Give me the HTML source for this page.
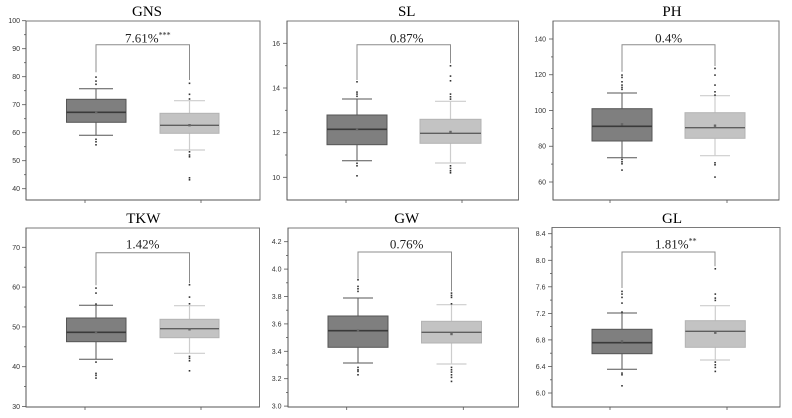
<!DOCTYPE html>
<html><head><meta charset="utf-8"><style>
html,body{margin:0;padding:0;background:#fff;}
svg{display:block;}
.t{font-family:"Liberation Serif",serif;font-size:15px;fill:#000;text-anchor:middle;}
.l{font-family:"Liberation Serif",serif;font-size:13px;fill:#222;}
.s{font-size:8px;}
.k{font-family:"Liberation Sans",sans-serif;font-size:7px;fill:#333;text-anchor:end;}
.fr{fill:none;stroke:#7a7a7a;stroke-width:1;}
.ax{stroke:#555;stroke-width:1;}
.tk{stroke:#555;stroke-width:0.8;}
.db{fill:#7f7f7f;stroke:#555;stroke-width:1;}
.lb{fill:#c3c3c3;stroke:#b3b3b3;stroke-width:1;}
.dm{stroke:#3a3a3a;stroke-width:1.6;}
.lm{stroke:#5e5e5e;stroke-width:1.4;}
.dw{stroke:#555;stroke-width:1;}
.lw{stroke:#cdcdcd;stroke-width:1.2;}
.br{fill:none;stroke:#8c8c8c;stroke-width:1;}
.o{fill:#333;}
.mn{fill:#666;}
</style></head><body>
<svg width="792" height="418" viewBox="0 0 792 418" xmlns="http://www.w3.org/2000/svg">

<!-- ============ P1 GNS ============ -->
<text class="t" x="147" y="16">GNS</text>
<rect class="fr" x="26" y="21" width="234" height="179"/>
<line class="ax" x1="26" y1="21" x2="26" y2="200"/>
<line class="ax" x1="26" y1="200" x2="260" y2="200"/>
<g class="tk">
<line x1="22" y1="20.7" x2="26" y2="20.7"/><line x1="22" y1="48.7" x2="26" y2="48.7"/><line x1="22" y1="76.7" x2="26" y2="76.7"/><line x1="22" y1="104.7" x2="26" y2="104.7"/><line x1="22" y1="132.7" x2="26" y2="132.7"/><line x1="22" y1="160.7" x2="26" y2="160.7"/><line x1="22" y1="188.7" x2="26" y2="188.7"/>
<line x1="24" y1="34.7" x2="26" y2="34.7"/><line x1="24" y1="62.7" x2="26" y2="62.7"/><line x1="24" y1="90.7" x2="26" y2="90.7"/><line x1="24" y1="118.7" x2="26" y2="118.7"/><line x1="24" y1="146.7" x2="26" y2="146.7"/><line x1="24" y1="174.7" x2="26" y2="174.7"/>
<line x1="85" y1="200" x2="85" y2="203"/><line x1="201" y1="200" x2="201" y2="203"/>
</g>
<text class="k" x="20" y="23.2">100</text><text class="k" x="20" y="51.2">90</text><text class="k" x="20" y="79.2">80</text><text class="k" x="20" y="107.2">70</text><text class="k" x="20" y="135.2">60</text><text class="k" x="20" y="163.2">50</text><text class="k" x="20" y="191.2">40</text>
<path class="br" d="M96,72.3 V44.7 H189.5 V80"/>
<text class="l" x="125" y="42.3">7.61%<tspan class="s" dy="-5">***</tspan></text>
<!-- dark -->
<line class="dw" x1="96" y1="88.7" x2="96" y2="135.3"/>
<line class="dw" x1="79" y1="88.7" x2="113" y2="88.7"/><line class="dw" x1="79" y1="135.3" x2="113" y2="135.3"/>
<rect class="db" x="66.5" y="99.3" width="59.5" height="23"/>
<line class="dm" x1="66.5" y1="112.3" x2="126" y2="112.3"/>
<rect class="mn" x="95" y="111" width="2.4" height="2.4"/>
<g class="o"><rect x="95.2" y="76.3" width="1.6" height="1.6"/><rect x="95.2" y="80.3" width="1.6" height="1.6"/><rect x="95.2" y="83.5" width="1.6" height="1.6"/><rect x="95.2" y="138.5" width="1.6" height="1.6"/><rect x="95.2" y="141" width="1.6" height="1.6"/><rect x="95.2" y="144" width="1.6" height="1.6"/></g>
<!-- light -->
<line class="lw" x1="189.5" y1="100.7" x2="189.5" y2="150"/>
<line class="lw" x1="174" y1="100.7" x2="205" y2="100.7"/><line class="lw" x1="174" y1="150" x2="205" y2="150"/>
<rect class="lb" x="160" y="113.3" width="59" height="20"/>
<line class="lm" x1="160" y1="125.3" x2="219" y2="125.3"/>
<rect class="mn" x="188.3" y="124" width="2.4" height="2.4"/>
<g class="o"><rect x="188.7" y="82.5" width="1.6" height="1.6"/><rect x="188.7" y="93.5" width="1.6" height="1.6"/><rect x="188.7" y="98.2" width="1.6" height="1.6"/><rect x="188.7" y="151" width="1.6" height="1.6"/><rect x="188.7" y="154.2" width="1.6" height="1.6"/><rect x="188.7" y="156" width="1.6" height="1.6"/><rect x="188.7" y="177" width="1.6" height="1.6"/><rect x="188.7" y="179" width="1.6" height="1.6"/></g>

<!-- ============ P2 SL ============ -->
<text class="t" x="406.7" y="16">SL</text>
<rect class="fr" x="287" y="21" width="231.5" height="179"/>
<line class="ax" x1="287" y1="21" x2="287" y2="200"/>
<line class="ax" x1="287" y1="200" x2="518.5" y2="200"/>
<g class="tk">
<line x1="283" y1="43.3" x2="287" y2="43.3"/><line x1="283" y1="88" x2="287" y2="88"/><line x1="283" y1="132.7" x2="287" y2="132.7"/><line x1="283" y1="177.3" x2="287" y2="177.3"/>
<line x1="285" y1="65.7" x2="287" y2="65.7"/><line x1="285" y1="110.3" x2="287" y2="110.3"/><line x1="285" y1="155" x2="287" y2="155"/>
<line x1="346" y1="200" x2="346" y2="203"/><line x1="462" y1="200" x2="462" y2="203"/>
</g>
<text class="k" x="280" y="45.8">16</text><text class="k" x="280" y="90.5">14</text><text class="k" x="280" y="135.2">12</text><text class="k" x="280" y="179.8">10</text>
<path class="br" d="M357,80 V44.7 H450.5 V63.3"/>
<text class="l" x="406.7" y="42.3" text-anchor="middle">0.87%</text>
<line class="dw" x1="357" y1="99" x2="357" y2="160.7"/>
<line class="dw" x1="342" y1="99" x2="372" y2="99"/><line class="dw" x1="342" y1="160.7" x2="372" y2="160.7"/>
<rect class="db" x="327" y="115" width="60" height="29.7"/>
<line class="dm" x1="327" y1="129.3" x2="387" y2="129.3"/>
<rect class="mn" x="355.8" y="128" width="2.4" height="2.4"/>
<g class="o"><rect x="356.2" y="81" width="1.6" height="1.6"/><rect x="356.2" y="91.3" width="1.6" height="1.6"/><rect x="356.2" y="93.3" width="1.6" height="1.6"/><rect x="356.2" y="95.5" width="1.6" height="1.6"/><rect x="356.2" y="162.5" width="1.6" height="1.6"/><rect x="356.2" y="165" width="1.6" height="1.6"/><rect x="356.2" y="175" width="1.6" height="1.6"/></g>
<line class="lw" x1="450.5" y1="101.3" x2="450.5" y2="163"/>
<line class="lw" x1="435" y1="101.3" x2="466" y2="101.3"/><line class="lw" x1="435" y1="163" x2="466" y2="163"/>
<rect class="lb" x="420" y="119.3" width="61" height="24"/>
<line class="lm" x1="420" y1="133.3" x2="481" y2="133.3"/>
<rect class="mn" x="449.3" y="130.8" width="2.4" height="2.4"/>
<g class="o"><rect x="449.7" y="65" width="1.6" height="1.6"/><rect x="449.7" y="75.3" width="1.6" height="1.6"/><rect x="449.7" y="80" width="1.6" height="1.6"/><rect x="449.7" y="93.3" width="1.6" height="1.6"/><rect x="449.7" y="96" width="1.6" height="1.6"/><rect x="449.7" y="98.3" width="1.6" height="1.6"/><rect x="449.7" y="165" width="1.6" height="1.6"/><rect x="449.7" y="167.6" width="1.6" height="1.6"/><rect x="449.7" y="170" width="1.6" height="1.6"/><rect x="449.7" y="172" width="1.6" height="1.6"/></g>

<!-- ============ P3 PH ============ -->
<text class="t" x="672" y="16">PH</text>
<rect class="fr" x="553" y="21" width="226" height="179"/>
<line class="ax" x1="553" y1="21" x2="553" y2="200"/>
<line class="ax" x1="553" y1="200" x2="779" y2="200"/>
<g class="tk">
<line x1="549" y1="39" x2="553" y2="39"/><line x1="549" y1="74.75" x2="553" y2="74.75"/><line x1="549" y1="110.5" x2="553" y2="110.5"/><line x1="549" y1="146.25" x2="553" y2="146.25"/><line x1="549" y1="182" x2="553" y2="182"/>
<line x1="551" y1="56.9" x2="553" y2="56.9"/><line x1="551" y1="92.6" x2="553" y2="92.6"/><line x1="551" y1="128.4" x2="553" y2="128.4"/><line x1="551" y1="164.1" x2="553" y2="164.1"/>
<line x1="610" y1="200" x2="610" y2="203"/><line x1="727" y1="200" x2="727" y2="203"/>
</g>
<text class="k" x="546" y="41.5">140</text><text class="k" x="546" y="77.2">120</text><text class="k" x="546" y="113">100</text><text class="k" x="546" y="148.7">80</text><text class="k" x="546" y="184.5">60</text>
<path class="br" d="M622,71.7 V44.7 H715 V66"/>
<text class="l" x="668.7" y="42.3" text-anchor="middle">0.4%</text>
<line class="dw" x1="622" y1="93" x2="622" y2="157.7"/>
<line class="dw" x1="607" y1="93" x2="637" y2="93"/><line class="dw" x1="607" y1="157.7" x2="637" y2="157.7"/>
<rect class="db" x="592" y="108.7" width="60" height="32.3"/>
<line class="dm" x1="592" y1="126.3" x2="652" y2="126.3"/>
<rect class="mn" x="620.8" y="123.1" width="2.4" height="2.4"/>
<g class="o"><rect x="621.2" y="74.3" width="1.6" height="1.6"/><rect x="621.2" y="76.6" width="1.6" height="1.6"/><rect x="621.2" y="81" width="1.6" height="1.6"/><rect x="621.2" y="84.3" width="1.6" height="1.6"/><rect x="621.2" y="86.6" width="1.6" height="1.6"/><rect x="621.2" y="88.6" width="1.6" height="1.6"/><rect x="621.2" y="158.6" width="1.6" height="1.6"/><rect x="621.2" y="161" width="1.6" height="1.6"/><rect x="621.2" y="163" width="1.6" height="1.6"/><rect x="621.2" y="169.3" width="1.6" height="1.6"/></g>
<line class="lw" x1="715" y1="95.7" x2="715" y2="155.7"/>
<line class="lw" x1="700" y1="95.7" x2="730" y2="95.7"/><line class="lw" x1="700" y1="155.7" x2="730" y2="155.7"/>
<rect class="lb" x="685" y="112.7" width="60" height="25.6"/>
<line class="lm" x1="685" y1="127.7" x2="745" y2="127.7"/>
<rect class="mn" x="713.8" y="124.5" width="2.4" height="2.4"/>
<g class="o"><rect x="714.2" y="67.6" width="1.6" height="1.6"/><rect x="714.2" y="74.3" width="1.6" height="1.6"/><rect x="714.2" y="84.3" width="1.6" height="1.6"/><rect x="714.2" y="91" width="1.6" height="1.6"/><rect x="714.2" y="94.3" width="1.6" height="1.6"/><rect x="714.2" y="162" width="1.6" height="1.6"/><rect x="714.2" y="164" width="1.6" height="1.6"/><rect x="714.2" y="176.3" width="1.6" height="1.6"/></g>

<!-- ============ P4 TKW ============ -->
<text class="t" x="143.3" y="223">TKW</text>
<rect class="fr" x="26" y="228" width="233.5" height="179"/>
<line class="ax" x1="26" y1="228" x2="26" y2="407"/>
<line class="ax" x1="26" y1="407" x2="259.5" y2="407"/>
<g class="tk">
<line x1="22" y1="247.3" x2="26" y2="247.3"/><line x1="22" y1="287.1" x2="26" y2="287.1"/><line x1="22" y1="326.9" x2="26" y2="326.9"/><line x1="22" y1="366.7" x2="26" y2="366.7"/><line x1="22" y1="406.5" x2="26" y2="406.5"/>
<line x1="24" y1="267.2" x2="26" y2="267.2"/><line x1="24" y1="307" x2="26" y2="307"/><line x1="24" y1="346.8" x2="26" y2="346.8"/><line x1="24" y1="386.6" x2="26" y2="386.6"/>
<line x1="85" y1="407" x2="85" y2="410"/><line x1="201" y1="407" x2="201" y2="410"/>
</g>
<text class="k" x="20" y="249.8">70</text><text class="k" x="20" y="289.6">60</text><text class="k" x="20" y="329.4">50</text><text class="k" x="20" y="369.2">40</text><text class="k" x="20" y="409">30</text>
<path class="br" d="M96,285.3 V252.7 H189.5 V283.3"/>
<text class="l" x="142.7" y="248.5" text-anchor="middle">1.42%</text>
<line class="dw" x1="96" y1="305.3" x2="96" y2="359.3"/>
<line class="dw" x1="79" y1="305.3" x2="113" y2="305.3"/><line class="dw" x1="79" y1="359.3" x2="113" y2="359.3"/>
<rect class="db" x="66.5" y="318" width="59.5" height="23.7"/>
<line class="dm" x1="66.5" y1="332.3" x2="126" y2="332.3"/>
<rect class="mn" x="94.8" y="331" width="2.4" height="2.4"/>
<g class="o"><rect x="95.2" y="287.3" width="1.6" height="1.6"/><rect x="95.2" y="292.3" width="1.6" height="1.6"/><rect x="95.2" y="303.3" width="1.6" height="1.6"/><rect x="95.2" y="361.3" width="1.6" height="1.6"/><rect x="95.2" y="372.6" width="1.6" height="1.6"/><rect x="95.2" y="374.6" width="1.6" height="1.6"/><rect x="95.2" y="377.3" width="1.6" height="1.6"/></g>
<line class="lw" x1="189.5" y1="305.7" x2="189.5" y2="353.3"/>
<line class="lw" x1="174" y1="305.7" x2="205" y2="305.7"/><line class="lw" x1="174" y1="353.3" x2="205" y2="353.3"/>
<rect class="lb" x="160" y="319.3" width="59" height="18.4"/>
<line class="lm" x1="160" y1="328.7" x2="219" y2="328.7"/>
<rect class="mn" x="188.3" y="328.1" width="2.4" height="2.4"/>
<g class="o"><rect x="188.7" y="284" width="1.6" height="1.6"/><rect x="188.7" y="296.3" width="1.6" height="1.6"/><rect x="188.7" y="303" width="1.6" height="1.6"/><rect x="188.7" y="355.6" width="1.6" height="1.6"/><rect x="188.7" y="357.6" width="1.6" height="1.6"/><rect x="188.7" y="360" width="1.6" height="1.6"/><rect x="188.7" y="370" width="1.6" height="1.6"/></g>

<!-- ============ P5 GW ============ -->
<text class="t" x="406.7" y="223">GW</text>
<rect class="fr" x="288" y="228" width="230.5" height="179"/>
<line class="ax" x1="288" y1="228" x2="288" y2="407"/>
<line class="ax" x1="288" y1="407" x2="518.5" y2="407"/>
<g class="tk">
<line x1="284" y1="241.7" x2="288" y2="241.7"/><line x1="284" y1="269.1" x2="288" y2="269.1"/><line x1="284" y1="296.5" x2="288" y2="296.5"/><line x1="284" y1="323.9" x2="288" y2="323.9"/><line x1="284" y1="351.3" x2="288" y2="351.3"/><line x1="284" y1="378.7" x2="288" y2="378.7"/><line x1="284" y1="406.1" x2="288" y2="406.1"/>
<line x1="286" y1="255.4" x2="288" y2="255.4"/><line x1="286" y1="282.8" x2="288" y2="282.8"/><line x1="286" y1="310.2" x2="288" y2="310.2"/><line x1="286" y1="337.6" x2="288" y2="337.6"/><line x1="286" y1="365" x2="288" y2="365"/><line x1="286" y1="392.4" x2="288" y2="392.4"/>
<line x1="346.7" y1="407" x2="346.7" y2="410"/><line x1="463.3" y1="407" x2="463.3" y2="410"/>
</g>
<text class="k" x="281.5" y="244.2">4.2</text><text class="k" x="281.5" y="271.6">4.0</text><text class="k" x="281.5" y="299">3.8</text><text class="k" x="281.5" y="326.4">3.6</text><text class="k" x="281.5" y="353.8">3.4</text><text class="k" x="281.5" y="381.2">3.2</text><text class="k" x="281.5" y="408.6">3.0</text>
<path class="br" d="M358,278.7 V252 H451.5 V291.3"/>
<text class="l" x="406.7" y="248.5" text-anchor="middle">0.76%</text>
<line class="dw" x1="358" y1="298" x2="358" y2="363"/>
<line class="dw" x1="343" y1="298" x2="373" y2="298"/><line class="dw" x1="343" y1="363" x2="373" y2="363"/>
<rect class="db" x="328" y="316" width="60" height="31.3"/>
<line class="dm" x1="328" y1="330.7" x2="388" y2="330.7"/>
<rect class="mn" x="356.8" y="329.4" width="2.4" height="2.4"/>
<g class="o"><rect x="357.2" y="279" width="1.6" height="1.6"/><rect x="357.2" y="285.6" width="1.6" height="1.6"/><rect x="357.2" y="288" width="1.6" height="1.6"/><rect x="357.2" y="290.6" width="1.6" height="1.6"/><rect x="357.2" y="366.6" width="1.6" height="1.6"/><rect x="357.2" y="369" width="1.6" height="1.6"/><rect x="357.2" y="370.6" width="1.6" height="1.6"/><rect x="357.2" y="374" width="1.6" height="1.6"/></g>
<line class="lw" x1="451.5" y1="304.7" x2="451.5" y2="364"/>
<line class="lw" x1="436.5" y1="304.7" x2="466.5" y2="304.7"/><line class="lw" x1="436.5" y1="364" x2="466.5" y2="364"/>
<rect class="lb" x="421.5" y="321.3" width="60" height="21.7"/>
<line class="lm" x1="421.5" y1="332.3" x2="481.5" y2="332.3"/>
<rect class="mn" x="450.3" y="332.8" width="2.4" height="2.4"/>
<g class="o"><rect x="450.7" y="292.3" width="1.6" height="1.6"/><rect x="450.7" y="294.6" width="1.6" height="1.6"/><rect x="450.7" y="296.6" width="1.6" height="1.6"/><rect x="450.7" y="303" width="1.6" height="1.6"/><rect x="450.7" y="366.6" width="1.6" height="1.6"/><rect x="450.7" y="369" width="1.6" height="1.6"/><rect x="450.7" y="371.3" width="1.6" height="1.6"/><rect x="450.7" y="374" width="1.6" height="1.6"/><rect x="450.7" y="376.6" width="1.6" height="1.6"/><rect x="450.7" y="380.6" width="1.6" height="1.6"/></g>

<!-- ============ P6 GL ============ -->
<text class="t" x="672" y="223">GL</text>
<rect class="fr" x="552" y="227.5" width="228" height="179.5"/>
<line class="ax" x1="552" y1="227.5" x2="552" y2="407"/>
<line class="ax" x1="552" y1="407" x2="780" y2="407"/>
<g class="tk">
<line x1="548" y1="233.7" x2="552" y2="233.7"/><line x1="548" y1="260.3" x2="552" y2="260.3"/><line x1="548" y1="286.8" x2="552" y2="286.8"/><line x1="548" y1="313.4" x2="552" y2="313.4"/><line x1="548" y1="339.9" x2="552" y2="339.9"/><line x1="548" y1="366.5" x2="552" y2="366.5"/><line x1="548" y1="393" x2="552" y2="393"/>
<line x1="550" y1="247" x2="552" y2="247"/><line x1="550" y1="273.5" x2="552" y2="273.5"/><line x1="550" y1="300.1" x2="552" y2="300.1"/><line x1="550" y1="326.6" x2="552" y2="326.6"/><line x1="550" y1="353.2" x2="552" y2="353.2"/><line x1="550" y1="379.8" x2="552" y2="379.8"/>
<line x1="610" y1="407" x2="610" y2="410"/><line x1="727" y1="407" x2="727" y2="410"/>
</g>
<text class="k" x="545.5" y="236.2">8.4</text><text class="k" x="545.5" y="262.8">8.0</text><text class="k" x="545.5" y="289.3">7.6</text><text class="k" x="545.5" y="315.9">7.2</text><text class="k" x="545.5" y="342.4">6.8</text><text class="k" x="545.5" y="369">6.4</text><text class="k" x="545.5" y="395.5">6.0</text>
<path class="br" d="M622,288 V252 H715 V266.3"/>
<text class="l" x="655" y="248.5">1.81%<tspan class="s" dy="-5">**</tspan></text>
<line class="dw" x1="622" y1="313" x2="622" y2="369.3"/>
<line class="dw" x1="607" y1="313" x2="637" y2="313"/><line class="dw" x1="607" y1="369.3" x2="637" y2="369.3"/>
<rect class="db" x="592" y="329.3" width="60" height="24.4"/>
<line class="dm" x1="592" y1="342.7" x2="652" y2="342.7"/>
<rect class="mn" x="620.8" y="340.1" width="2.4" height="2.4"/>
<g class="o"><rect x="621.2" y="290.6" width="1.6" height="1.6"/><rect x="621.2" y="293.3" width="1.6" height="1.6"/><rect x="621.2" y="296.6" width="1.6" height="1.6"/><rect x="621.2" y="302.3" width="1.6" height="1.6"/><rect x="621.2" y="311.3" width="1.6" height="1.6"/><rect x="621.2" y="372.3" width="1.6" height="1.6"/><rect x="621.2" y="374" width="1.6" height="1.6"/><rect x="621.2" y="385" width="1.6" height="1.6"/></g>
<line class="lw" x1="715.3" y1="305.7" x2="715.3" y2="360"/>
<line class="lw" x1="700" y1="305.7" x2="730" y2="305.7"/><line class="lw" x1="700" y1="360" x2="730" y2="360"/>
<rect class="lb" x="685.3" y="320.7" width="60" height="26.6"/>
<line class="lm" x1="685.3" y1="331.3" x2="745.3" y2="331.3"/>
<rect class="mn" x="714.1" y="331.5" width="2.4" height="2.4"/>
<g class="o"><rect x="714.5" y="268" width="1.6" height="1.6"/><rect x="714.5" y="293.3" width="1.6" height="1.6"/><rect x="714.5" y="297.3" width="1.6" height="1.6"/><rect x="714.5" y="299.6" width="1.6" height="1.6"/><rect x="714.5" y="361.3" width="1.6" height="1.6"/><rect x="714.5" y="364" width="1.6" height="1.6"/><rect x="714.5" y="366.6" width="1.6" height="1.6"/><rect x="714.5" y="370.6" width="1.6" height="1.6"/></g>

</svg>
</body></html>
